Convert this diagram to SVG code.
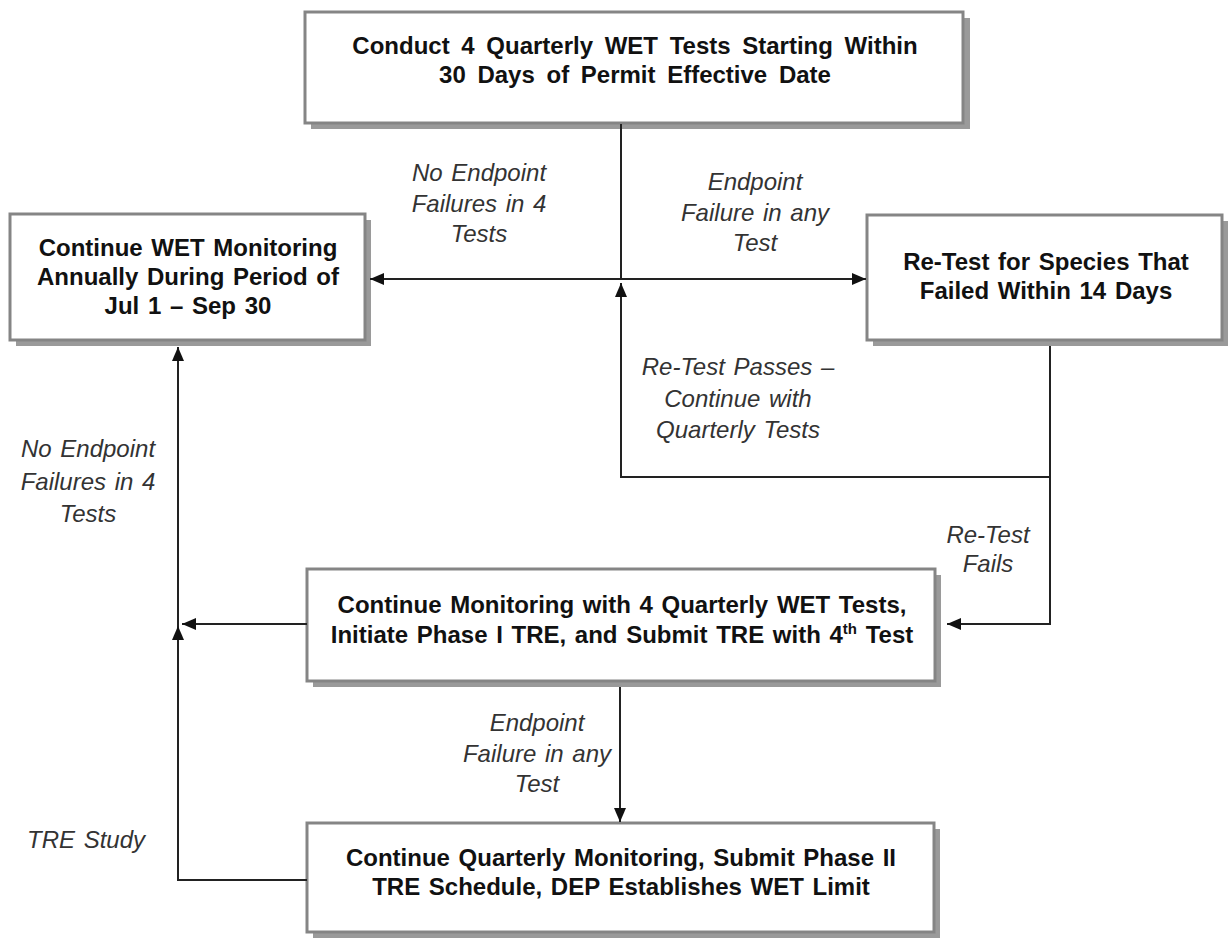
<svg xmlns="http://www.w3.org/2000/svg" width="1228" height="941" viewBox="0 0 1228 941">
<style>
.box{fill:#fff;stroke:#858585;stroke-width:3}
.sh{fill:#9a9a9a}
.bt{font-family:"Liberation Sans",Arial,sans-serif;font-weight:bold;font-size:24px;word-spacing:2px;fill:#111;text-anchor:middle}
.lb{font-family:"Liberation Sans",Arial,sans-serif;font-style:italic;font-size:24px;word-spacing:2px;fill:#333;text-anchor:middle}
.ln{fill:none;stroke:#222;stroke-width:2}
</style>
<defs>
<marker id="ah" viewBox="0 0 14 12" refX="14" refY="6" markerWidth="14" markerHeight="12" markerUnits="userSpaceOnUse" orient="auto">
<path d="M0,0 L14,6 L0,12 Z" fill="#111"/>
</marker>
</defs>
<rect width="1228" height="941" fill="#fff"/>
<g id="n1">
<rect class="sh" x="311" y="18" width="659" height="111"/>
<rect class="box" x="305" y="12" width="658" height="111"/>
<text class="bt" x="635" y="54" style="word-spacing:5px">Conduct 4 Quarterly WET Tests Starting Within</text>
<text class="bt" x="635" y="83" style="word-spacing:5px">30 Days of Permit Effective Date</text>
</g>
<g id="n2">
<rect class="sh" x="16" y="220" width="355" height="126"/>
<rect class="box" x="10" y="214" width="355" height="126"/>
<text class="bt" x="188" y="256">Continue WET Monitoring</text>
<text class="bt" x="188" y="285">Annually During Period of</text>
<text class="bt" x="188" y="314">Jul 1 – Sep 30</text>
</g>
<g id="n3">
<rect class="sh" x="873" y="221" width="355" height="125"/>
<rect class="box" x="867" y="215" width="355" height="125"/>
<text class="bt" x="1046" y="270">Re-Test for Species That</text>
<text class="bt" x="1046" y="299">Failed Within 14 Days</text>
</g>
<g id="n4">
<rect class="sh" x="313" y="575" width="628" height="112"/>
<rect class="box" x="307" y="569" width="628" height="112"/>
<text class="bt" x="622" y="613">Continue Monitoring with 4 Quarterly WET Tests,</text>
<text class="bt" x="622" y="643">Initiate Phase I TRE, and Submit TRE with 4<tspan font-size="15" dy="-9">th</tspan><tspan dy="9"> Test</tspan></text>
</g>
<g id="n5">
<rect class="sh" x="313" y="829" width="627" height="109"/>
<rect class="box" x="307" y="823" width="627" height="109"/>
<text class="bt" x="621" y="866">Continue Quarterly Monitoring, Submit Phase II</text>
<text class="bt" x="621" y="895">TRE Schedule, DEP Establishes WET Limit</text>
</g>
<g id="connectors">
<path class="ln" d="M621,124 L621,279"/>
<path class="ln" d="M621,279 L370,279" marker-end="url(#ah)"/>
<path class="ln" d="M621,279 L866,279" marker-end="url(#ah)"/>
<path class="ln" d="M1050,346 L1050,477 L621,477 L621,283" marker-end="url(#ah)"/>
<path class="ln" d="M1050,477 L1050,624 L947,624" marker-end="url(#ah)"/>
<path class="ln" d="M307,624 L182,624" marker-end="url(#ah)"/>
<path class="ln" d="M307,880 L178,880 L178,626" marker-end="url(#ah)"/>
<path class="ln" d="M178,626 L178,347" marker-end="url(#ah)"/>
<path class="ln" d="M620,687 L620,822" marker-end="url(#ah)"/>
</g>
<g id="labels">
<text class="lb" x="479" y="181">No Endpoint</text>
<text class="lb" x="479" y="212">Failures in 4</text>
<text class="lb" x="479" y="242">Tests</text>
<text class="lb" x="755" y="190">Endpoint</text>
<text class="lb" x="755" y="221">Failure in any</text>
<text class="lb" x="755" y="251">Test</text>
<text class="lb" x="738" y="375">Re-Test Passes –</text>
<text class="lb" x="738" y="407">Continue with</text>
<text class="lb" x="738" y="438">Quarterly Tests</text>
<text class="lb" x="88" y="457">No Endpoint</text>
<text class="lb" x="88" y="490">Failures in 4</text>
<text class="lb" x="88" y="522">Tests</text>
<text class="lb" x="988" y="543">Re-Test</text>
<text class="lb" x="988" y="572">Fails</text>
<text class="lb" x="537" y="731">Endpoint</text>
<text class="lb" x="537" y="762">Failure in any</text>
<text class="lb" x="537" y="792">Test</text>
<text class="lb" x="86" y="848">TRE Study</text>
</g>
</svg>
